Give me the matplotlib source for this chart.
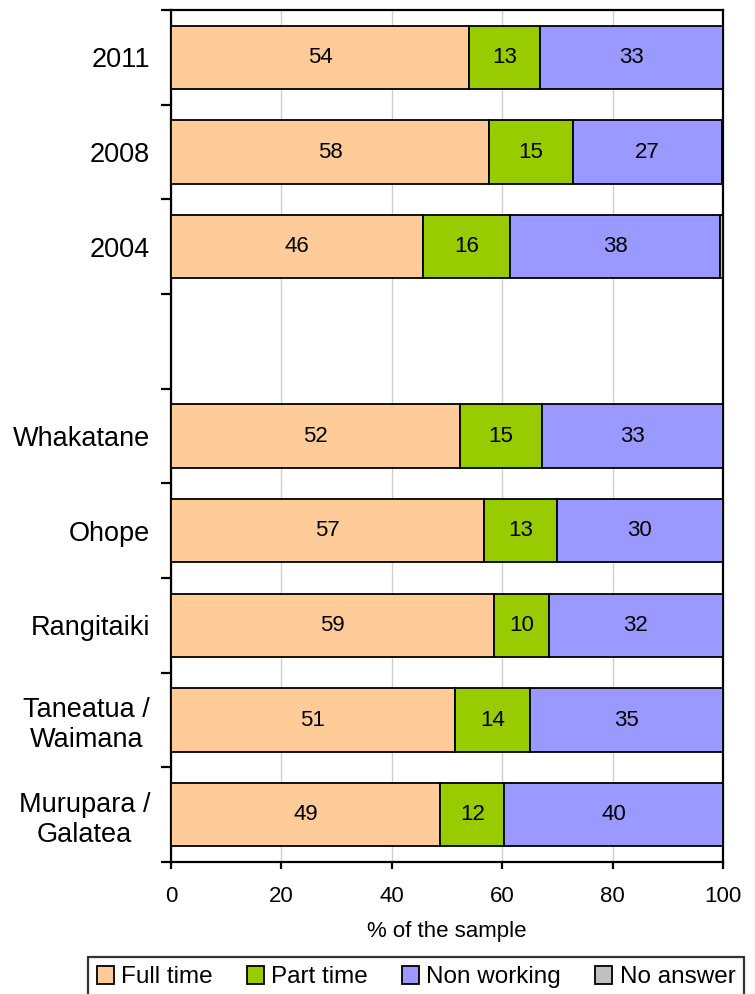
import matplotlib
matplotlib.use("Agg")
import matplotlib.pyplot as plt
import numpy as np

plt.rcParams['font.family'] = ['Liberation Sans', 'DejaVu Sans']

# Data (top to bottom)
group_a = ["2011", "2008", "2004"]
group_b = ["Whakatane", "Ohope", "Rangitaiki", "Taneatua /\nWaimana", "Murupara /\nGalatea"]

full_time_a = [54.0, 57.6, 45.6]
part_time_a = [12.8, 15.3, 15.9]
non_working_a = [33.2, 26.9, 38.0]
no_answer_a = [0.0, 0.2, 0.5]

full_time_b = [52.3, 56.7, 58.6, 51.4, 48.8]
part_time_b = [15.0, 13.2, 9.8, 13.6, 11.6]
non_working_b = [32.7, 30.1, 31.6, 35.0, 39.6]
no_answer_b = [0.0, 0.0, 0.0, 0.0, 0.0]

series_names = ["Full time", "Part time", "Non working", "No answer"]
colors = ["#FFCC99", "#99CC00", "#9999FF", "#C0C0C0"]

x_ticks = [0, 20, 40, 60, 80, 100]
x_label = "% of the sample"

# Build positions: one blank slot between groups
labels = group_a + [""] + group_b
n_slots = len(labels)
pos = np.array(list(range(len(group_a))) + list(range(len(group_a) + 1, n_slots)))
cats = group_a + group_b
series = [
    np.array(full_time_a + full_time_b),
    np.array(part_time_a + part_time_b),
    np.array(non_working_a + non_working_b),
    np.array(no_answer_a + no_answer_b),
]

W, H = 755, 994
fig = plt.figure(figsize=(W / 100, H / 100), dpi=100)
ax = fig.add_axes([171 / W, 1 - 862 / H, (723 - 171) / W, (862 - 10) / H])

left = np.zeros(len(cats))
handles = []
for vals, name, col in zip(series, series_names, colors):
    mask = vals > 0
    ax.barh(pos[mask], vals[mask], left=left[mask], height=0.67,
            color=col, edgecolor="black", linewidth=1.3, label=name, zorder=3)
    handles.append(plt.Rectangle((0, 0), 1, 1, facecolor=col, edgecolor="black", linewidth=1.3))
    if name != "No answer":
        for p, v, l in zip(pos, vals, left):
            if v >= 1:
                ax.text(l + v / 2, p, f"{v:.0f}", ha="center", va="center",
                        fontsize=16, color="black", zorder=4)
    left = left + vals

ax.set_xlim(0, 100)
ax.set_ylim(n_slots - 0.5, -0.5)
ax.set_xticks(x_ticks)
ax.set_xticklabels([str(t) for t in x_ticks], fontsize=16)
ax.set_xlabel(x_label, fontsize=16, labelpad=10)

ax.set_yticks(np.arange(n_slots))
ax.set_yticklabels(labels, fontsize=19.5, multialignment="center")
ax.set_yticks(np.arange(n_slots + 1) - 0.5, minor=True)
ax.tick_params(axis="y", which="major", length=0, pad=15)
ax.tick_params(axis="y", which="minor", length=7, width=1.6, direction="out")
ax.tick_params(axis="x", which="major", length=5, width=1.6, direction="out", pad=12)

ax.grid(axis="x", color="#D0D0D0", linewidth=1.0, zorder=0)
ax.set_axisbelow(True)
for s in ax.spines.values():
    s.set_linewidth(1.6)
    s.set_color("black")

leg = fig.legend(handles, series_names, loc="upper left", ncol=4,
                 bbox_to_anchor=(88 / W, 1 - 957 / H, (744 - 88) / W, 0.0),
                 mode="expand", fontsize=17.5, frameon=True, fancybox=False,
                 edgecolor="black", handlelength=0.7, handleheight=0.8,
                 handletextpad=0.3, columnspacing=1.0, borderpad=0.35,
                 borderaxespad=0)
leg.get_frame().set_linewidth(1.6)

fig.savefig("out.png", dpi=100)
